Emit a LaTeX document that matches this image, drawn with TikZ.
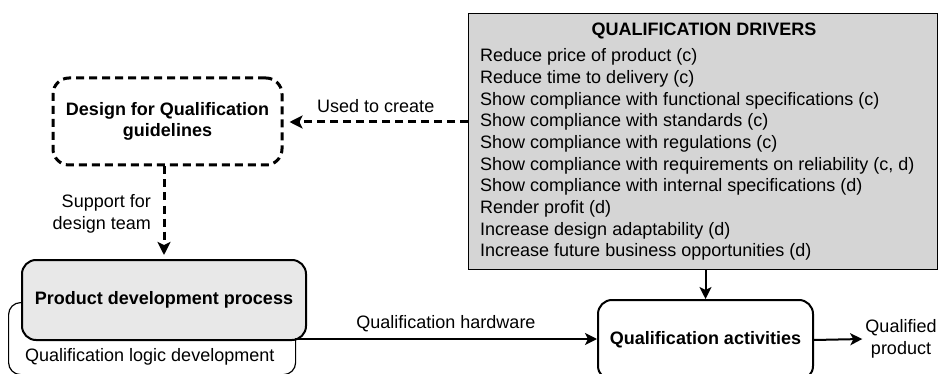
\documentclass[tikz,border=0pt]{standalone}
\usepackage{fontspec}
\setmainfont{Liberation Sans}
\usetikzlibrary{arrows.meta}
\definecolor{drvgray}{HTML}{D5D5D5}
\definecolor{prodgray}{HTML}{E8E8E8}
\begin{document}
\begin{tikzpicture}[x=1pt,y=-1pt,
  font=\fontsize{18}{21.7}\selectfont,
  arr/.style={line width=2pt, -{Stealth[length=12pt,width=12pt,inset=3pt]}},
  darr/.style={line width=3pt, dash pattern=on 8pt off 5pt, -{Stealth[length=13pt,width=13pt,inset=3pt]}},
  txt/.style={inner sep=0pt},
  bold/.style={font=\fontsize{18}{21.7}\selectfont\bfseries},
]
\useasboundingbox (0,0) rectangle (939,374);

% Qualification drivers box
\node[draw, line width=1.2pt, fill=drvgray, minimum width=469pt, minimum height=256pt,
      anchor=north west, inner sep=0pt] (drivers) at (468,13) {};
\node[bold, txt] (title) at (704,31) {QUALIFICATION DRIVERS};
\foreach \t [count=\i] in {
  {Reduce price of product (c)},
  {Reduce time to delivery (c)},
  {Show compliance with functional specifications (c)},
  {Show compliance with standards (c)},
  {Show compliance with regulations (c)},
  {Show compliance with requirements on reliability (c, d)},
  {Show compliance with internal specifications (d)},
  {Render profit (d)},
  {Increase design adaptability (d)},
  {Increase future business opportunities (d)}}
  \node[txt, anchor=west] (d\i) at (480,{35.3+21.7*\i}) {\t};

% Design for Qualification guidelines
\node[draw, line width=3pt, dash pattern=on 8pt off 5pt, rounded corners=16pt,
      minimum width=229pt, minimum height=87pt, align=center, bold, inner sep=0pt]
      (dfq) at (167.5,121.5) {Design for Qualification\\guidelines};

% Qualification logic development (back box)
\node[draw, line width=1.2pt, rounded corners=12pt, fill=white, minimum width=287pt,
      minimum height=72pt, anchor=north west, inner sep=0pt] (qld) at (8,302) {};
\node[txt, anchor=west] (qldtext) at (25,357) {Qualification logic development};

% Product development process (front box)
\node[draw, line width=2pt, rounded corners=14pt, fill=prodgray, minimum width=284pt,
      minimum height=80pt, bold, inner sep=0pt] (prod) at (164,300) {Product development process};

% Qualification activities
\node[draw, line width=2pt, rounded corners=14pt, fill=white, minimum width=215pt,
      minimum height=80pt, bold, inner sep=0pt] (qa) at (705.5,340) {Qualification activities};

% Qualified product label
\node[align=center, inner sep=3pt] (qp) at (901,339) {Qualified\\product};

% Support label
\node[align=right, inner sep=0pt, anchor=east] (sup) at (151,214) {Support for\\design team};

% Connectors
\draw[darr, shorten >=6pt] (drivers.west |- 0,122) -- (dfq.east |- 0,122)
  node[midway, above=4pt] (uc) {Used to create};
\draw[darr, shorten >=4pt] (dfq.south -| prod.north) -- (prod.north);
\coordinate (hw) at (295,339);
\draw[arr] (hw) -- (qa.west |- hw)
  node[midway, above=3pt] (hwl) {Qualification hardware};
\draw[arr] (drivers.south -| qa.north) -- (qa.north);
\draw[arr] (qa.east) -- (qp.west);
\end{tikzpicture}
\end{document}
